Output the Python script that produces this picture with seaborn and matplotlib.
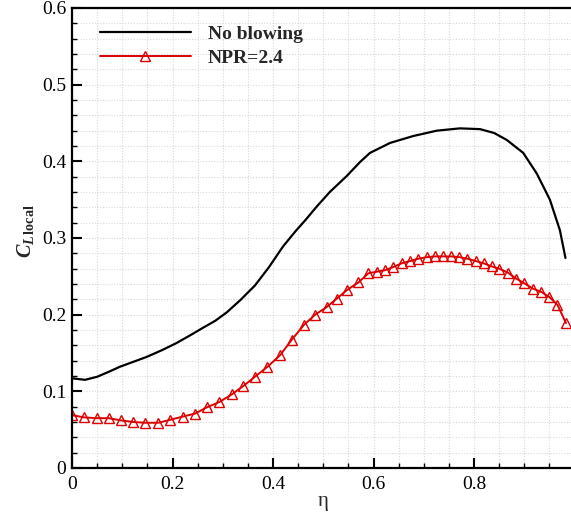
import numpy as np
import pandas as pd
import matplotlib
matplotlib.use("Agg")
import matplotlib.pyplot as plt
from matplotlib.ticker import MultipleLocator
import seaborn as sns

# ---- data ----
eta_noblow = [0.000, 0.013, 0.026, 0.050, 0.075, 0.095, 0.120, 0.149, 0.180, 0.208,
              0.235, 0.261, 0.285, 0.308, 0.335, 0.364, 0.392, 0.420, 0.445, 0.464,
              0.487, 0.513, 0.547, 0.573, 0.593, 0.633, 0.679, 0.726, 0.772, 0.812,
              0.840, 0.865, 0.898, 0.925, 0.951, 0.971, 0.982]
cl_noblow = [0.117, 0.116, 0.115, 0.119, 0.126, 0.132, 0.138, 0.145, 0.154, 0.163,
             0.173, 0.183, 0.192, 0.203, 0.219, 0.238, 0.262, 0.289, 0.309, 0.323,
             0.341, 0.360, 0.381, 0.399, 0.411, 0.424, 0.433, 0.440, 0.443, 0.442,
             0.437, 0.428, 0.411, 0.384, 0.350, 0.310, 0.274]

eta_npr = [0.000, 0.024, 0.049, 0.073, 0.098, 0.122, 0.146, 0.172, 0.196, 0.220,
           0.245, 0.268, 0.293, 0.318, 0.341, 0.364, 0.389, 0.414, 0.437, 0.462,
           0.484, 0.507, 0.527, 0.547, 0.570, 0.590, 0.606, 0.623, 0.639, 0.656,
           0.673, 0.689, 0.706, 0.722, 0.739, 0.754, 0.771, 0.787, 0.803, 0.819,
           0.835, 0.850, 0.867, 0.884, 0.900, 0.917, 0.933, 0.950, 0.966, 0.983]
cl_npr = [0.069, 0.066, 0.065, 0.065, 0.062, 0.060, 0.059, 0.059, 0.063, 0.067,
          0.071, 0.079, 0.086, 0.096, 0.107, 0.119, 0.132, 0.147, 0.167, 0.187,
          0.200, 0.210, 0.221, 0.232, 0.242, 0.254, 0.256, 0.258, 0.262, 0.267,
          0.270, 0.273, 0.275, 0.276, 0.276, 0.276, 0.275, 0.273, 0.270, 0.267,
          0.263, 0.260, 0.255, 0.247, 0.241, 0.234, 0.230, 0.223, 0.213, 0.189]

labels = ["No blowing", "NPR=2.4"]
x_ticks = [0, 0.2, 0.4, 0.6, 0.8]
y_ticks = [0, 0.1, 0.2, 0.3, 0.4, 0.5, 0.6]
x_ticklabels = ["0", "0.2", "0.4", "0.6", "0.8"]
y_ticklabels = ["0", "0.1", "0.2", "0.3", "0.4", "0.5", "0.6"]

df_a = pd.DataFrame({"eta": eta_noblow, "cl": cl_noblow})
df_b = pd.DataFrame({"eta": eta_npr, "cl": cl_npr})

# ---- style ----
sns.set_theme(style="white")
plt.rcParams["font.family"] = ["Liberation Serif", "DejaVu Serif"]
plt.rcParams["mathtext.fontset"] = "custom"
plt.rcParams["mathtext.rm"] = "Liberation Serif"
plt.rcParams["mathtext.it"] = "Liberation Serif:italic:bold"
plt.rcParams["mathtext.bf"] = "Liberation Serif:bold"

fig = plt.figure(figsize=(5.71, 5.12), dpi=100)
ax = fig.add_axes([72 / 571, 44 / 512, 502.5 / 571, 460 / 512])

sns.lineplot(data=df_a, x="eta", y="cl", ax=ax, color="black", lw=1.6,
             sort=False, label=labels[0])
sns.lineplot(data=df_b, x="eta", y="cl", ax=ax, color="#dd0000", lw=1.4,
             sort=False, marker="^", markersize=7.5, markerfacecolor="none",
             markeredgecolor="#dd0000", markeredgewidth=1.0, label=labels[1])

ax.set_xlim(0, 1.0)
ax.set_ylim(0, 0.6)
ax.set_xticks(x_ticks)
ax.set_xticklabels(x_ticklabels)
ax.set_yticks(y_ticks)
ax.set_yticklabels(y_ticklabels)
ax.xaxis.set_minor_locator(MultipleLocator(0.05))
ax.yaxis.set_minor_locator(MultipleLocator(0.02))

ax.grid(True, which="both", color="#d8d8d8", linestyle=(0, (1, 1.5)), linewidth=0.8)
ax.set_axisbelow(True)

ax.tick_params(axis="both", which="major", direction="in", length=7, width=1.5,
               labelsize=14, color="black", labelcolor="black", pad=4,
               bottom=True, left=True, top=False, right=False)
ax.tick_params(axis="x", which="major", pad=6)
ax.tick_params(axis="both", which="minor", direction="in", length=3.5, width=1.0,
               color="black", bottom=True, left=True, top=False, right=False)

for s in ["left", "bottom", "top"]:
    ax.spines[s].set_visible(True)
    ax.spines[s].set_color("black")
    ax.spines[s].set_linewidth(1.6)
ax.spines["right"].set_visible(False)

ax.set_xlabel("η", fontsize=15)
ax.xaxis.label.set_va("center")
ax.xaxis.set_label_coords(0.5, -0.073)
ax.set_ylabel(r"$C_{L\,\mathbf{local}}$", fontsize=14.5)
ax.yaxis.label.set_va("center")
ax.yaxis.set_label_coords(-0.092, 0.515)

leg = ax.legend(loc="upper left", bbox_to_anchor=(0.055, 0.963), frameon=False,
                prop={"family": "Liberation Serif", "weight": "bold", "size": 14},
                handlelength=4.7, handletextpad=0.85, labelspacing=0.35,
                borderpad=0, borderaxespad=0, numpoints=1)

fig.savefig("out.png", dpi=100)
